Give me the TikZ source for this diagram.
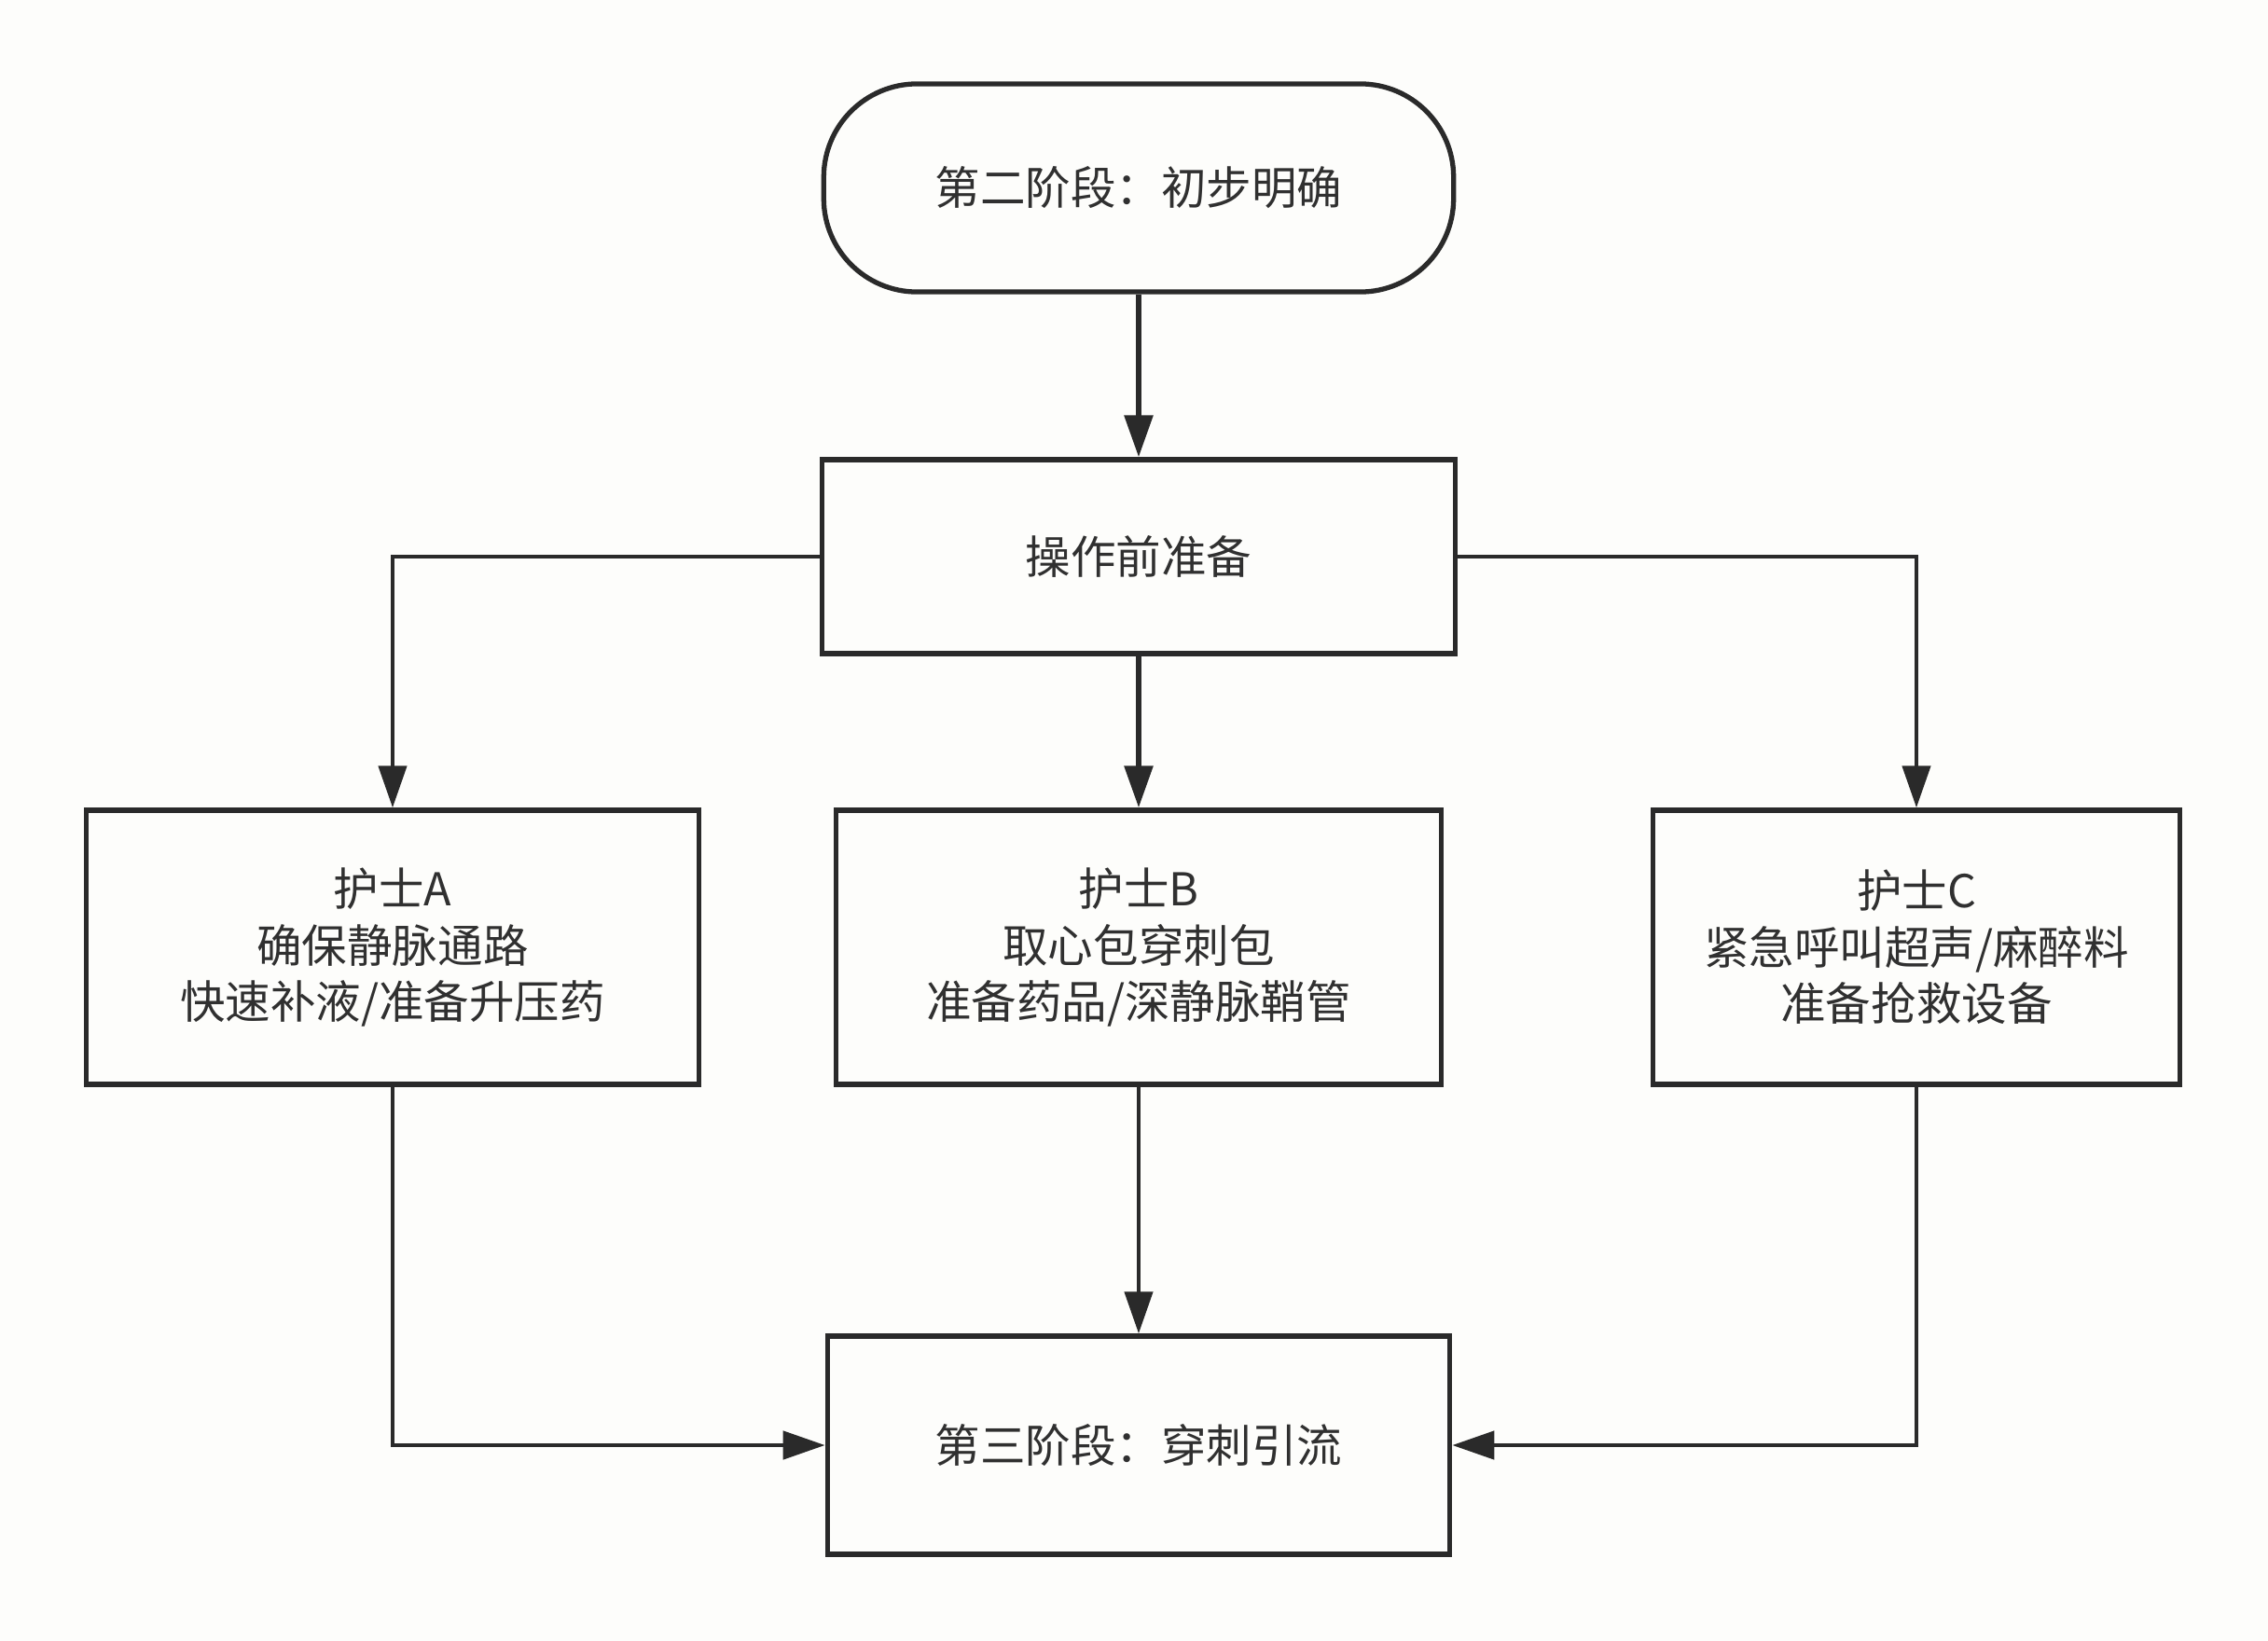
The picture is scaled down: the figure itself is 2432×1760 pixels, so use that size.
\documentclass[tikz,border=0pt]{standalone}
\usepackage{fontspec}
\setmainfont{Noto Sans CJK SC}
\usetikzlibrary{arrows.meta,positioning}
\definecolor{ink}{HTML}{2A2A2A}
\definecolor{txt}{HTML}{303030}
\definecolor{bg}{HTML}{FDFDFB}
\tikzset{
  box/.style={draw=ink, line width=1.5pt, rectangle, align=center, text=txt, font=\fontsize{13.8}{17.2}\selectfont, inner sep=0pt},
  term/.style={box, rounded corners=1.0cm},
  conn/.style={draw=ink, line width=1.3pt, -{Triangle[length=0.45cm,width=0.3cm]}},
  thickconn/.style={conn, line width=1.7pt}
}
\begin{document}
\begin{tikzpicture}[x=0.01cm,y=-0.01cm]
\fill[bg] (0,0) rectangle (2432,1760);
\useasboundingbox (0,0) rectangle (2432,1760);
\node[term, minimum width=6.75cm, minimum height=2.23cm] (start) at (1221,201.5) {第二阶段：初步明确};
\node[box, minimum width=6.78cm, minimum height=2.08cm] (prep) at (1221,597) {操作前准备};
\node[box, minimum width=6.56cm, minimum height=2.94cm] (na) at (421,1016) {护士A\\确保静脉通路\\快速补液/准备升压药};
\node[box, minimum width=6.49cm, minimum height=2.94cm] (nb) at (1221,1016) {护士B\\取心包穿刺包\\准备药品/深静脉鞘管};
\node[box, minimum width=5.64cm, minimum height=2.94cm] (nc) at (2055,1016) {护士C\\紧急呼叫超声/麻醉料\\准备抢救设备};
\node[box, minimum width=6.67cm, minimum height=2.34cm] (end) at (1221,1550) {第三阶段：穿刺引流};
\draw[thickconn] (start.south) -- (prep.north);
\draw[thickconn] (prep.south) -- (nb.north);
\draw[conn] (prep.west) -| (na.north);
\draw[conn] (prep.east) -| (nc.north);
\draw[conn] (nb.south) -- (end.north);
\draw[conn] (na.south) |- (end.west);
\draw[conn] (nc.south) |- (end.east);
\end{tikzpicture}
\end{document}
